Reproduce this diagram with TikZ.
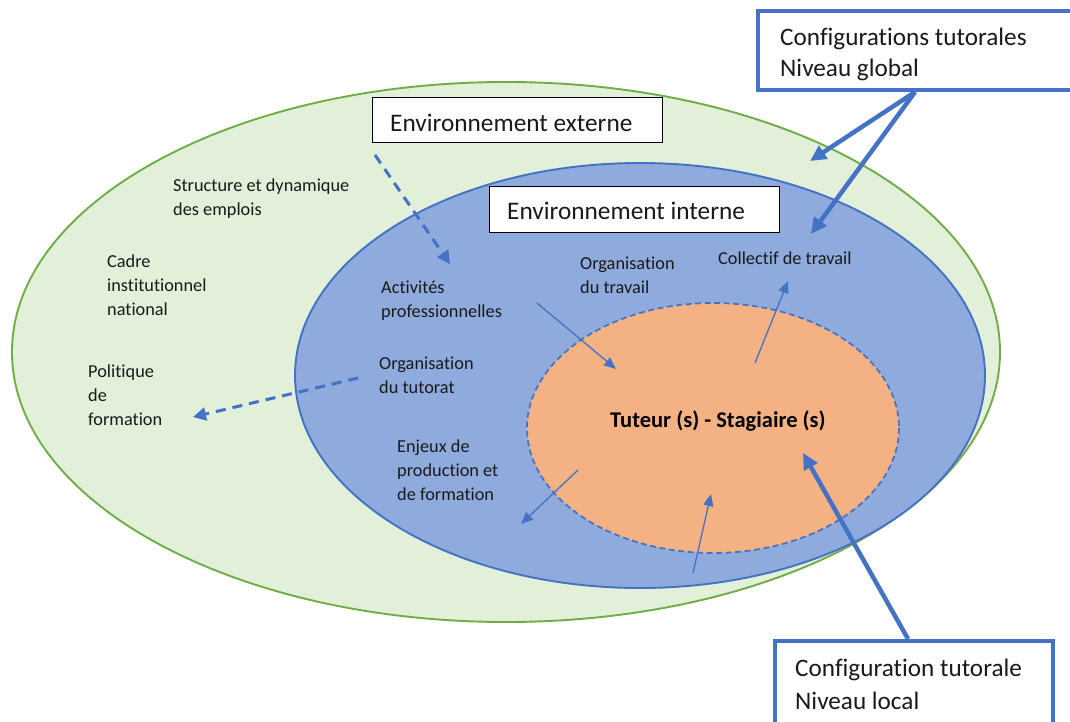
\documentclass[tikz,border=0pt]{standalone}
\usepackage{fontspec}
\setmainfont[Ligatures=NoCommon]{Carlito}
\usetikzlibrary{arrows.meta}
\definecolor{gfill}{HTML}{E2EFD9}
\definecolor{gline}{HTML}{70AD47}
\definecolor{bfill}{HTML}{8FAADC}
\definecolor{bline}{HTML}{4472C4}
\definecolor{ofill}{HTML}{F4B183}
\definecolor{txt}{HTML}{1A1A1A}
\tikzset{
  lbl/.style={align=left, anchor=base west, inner sep=0pt, text=txt, font=\fontsize{18.3}{23.8}\selectfont},
  envbox/.style={draw=black, line width=1pt, fill=white, rectangle},
  envtext/.style={anchor=base west, inner sep=0pt, text=txt, font=\fontsize{25.3}{30}\selectfont},
  cfgtext/.style={align=left, anchor=base west, inner sep=0pt, text=txt, font=\fontsize{25.2}{31}\selectfont},
  cfgbox/.style={draw=bline, line width=4pt, fill=white},
  thinarr/.style={draw=bline, line width=1.3pt, -{Triangle[length=12pt,width=10pt]}},
  thickarr/.style={draw=bline, line width=4.5pt, -{Triangle[length=16pt,width=15pt]}},
  dasharr/.style={draw=bline, line width=3pt, dash pattern=on 10pt off 7pt, -{Triangle[length=13pt,width=13pt]}},
}
\begin{document}
\begin{tikzpicture}[x=1pt,y=-1pt]
\useasboundingbox (0,0) rectangle (1070,722);
% ellipses
\draw[fill=gfill, draw=gline, line width=1.9pt] (506,352) ellipse [x radius=494, y radius=270];
\draw[fill=bfill, draw=bline, line width=1.9pt] (640,375.5) ellipse [x radius=345, y radius=212.5];
\draw[fill=ofill, draw=bline, line width=1.7pt, dash pattern=on 6pt off 3.5pt] (713,428) ellipse [x radius=186, y radius=125];
% env boxes
\draw[envbox] (372,98) rectangle (662,143);
\node[envtext] (envext) at (390,131.5) {Environnement externe};
\draw[envbox] (489,187) rectangle (779,232);
\node[envtext] (envint) at (507,219.5) {Environnement interne};
% labels (anchor = baseline of last line)
\node[lbl] (sde) at (173,215) {Structure et dynamique\\des emplois};
\node[lbl] (cin) at (107,315) {Cadre\\institutionnel\\national};
\node[lbl] (pdf) at (88,425) {Politique\\de\\formation};
\node[lbl] (ap) at (381,317) {Activités\\professionnelles};
\node[lbl] (odt) at (379,393) {Organisation\\du tutorat};
\node[lbl] (epf) at (397,500) {Enjeux de\\production et\\de formation};
\node[lbl] (otr) at (580,293) {Organisation\\du travail};
\node[lbl] (cdt) at (718,264) {Collectif de travail};
\node[anchor=base west, inner sep=0pt, text=black, font=\fontsize{22.5}{26}\selectfont\bfseries] (ts) at (610,427.5) {Tuteur (s) - Stagiaire (s)};
% coordinates for connectors
\coordinate (a1s) at (537,303); \coordinate (a1e) at (616,369);
\coordinate (a2s) at (755,363); \coordinate (a2e) at (788,281);
\coordinate (a3s) at (578,470); \coordinate (a3e) at (521,524);
\coordinate (a4s) at (693,573); \coordinate (a4e) at (711,494);
\coordinate (d1s) at (375,155); \coordinate (d1e) at (450,264);
\coordinate (d2s) at (358,378); \coordinate (d2e) at (193,417);
\draw[thinarr] (a1s) -- (a1e);
\draw[thinarr] (a2s) -- (a2e);
\draw[thinarr] (a3s) -- (a3e);
\draw[thinarr] (a4s) -- (a4e);
\draw[dasharr] (d1s) -- (d1e);
\draw[dasharr] (d2s) -- (d2e);
% config boxes
\draw[cfgbox] (758,11) rectangle (1075,90);
\node[cfgtext] (glob) at (780,77) {Configurations tutorales\\Niveau global};
\draw[cfgbox] (775,641) rectangle (1053,740);
\node[cfgtext, font=\fontsize{25.2}{33}\selectfont] (loc) at (795,709) {Configuration tutorale\\Niveau local};
\coordinate (gs) at (915,92);
\coordinate (ge1) at (810,161);
\coordinate (ge2) at (811,234);
\coordinate (ls) at (908,639);
\coordinate (le) at (803,453);
\draw[thickarr] (gs) -- (ge1);
\draw[thickarr] (gs) -- (ge2);
\draw[thickarr] (ls) -- (le);
\end{tikzpicture}
\end{document}
